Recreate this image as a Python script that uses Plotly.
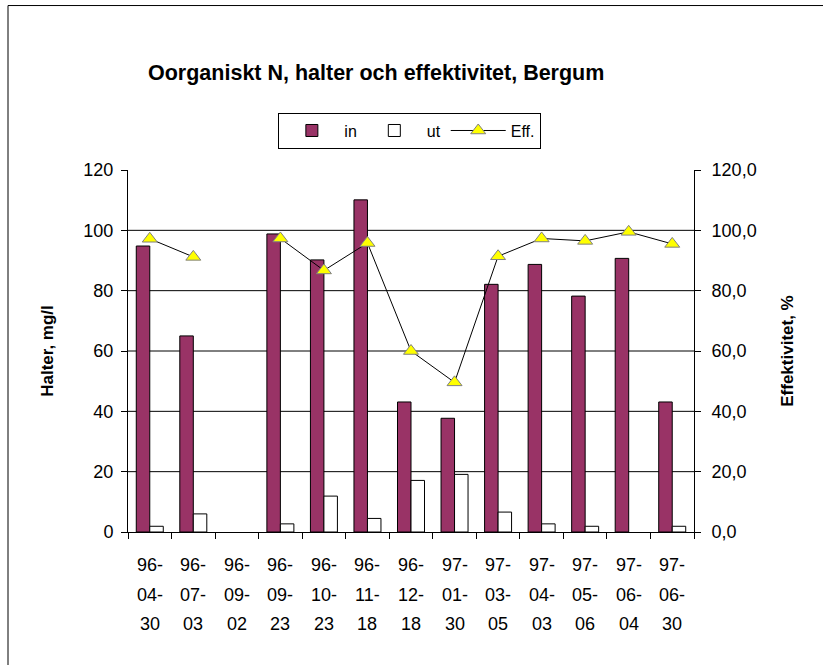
import plotly.graph_objects as go

dates = ["96-04-30", "96-07-03", "96-09-02", "96-09-23", "96-10-23", "96-11-18", "96-12-18",
         "97-01-30", "97-03-05", "97-04-03", "97-05-06", "97-06-04", "97-06-30"]
halt_in = [94.8, 65.0, None, 98.8, 90.2, 110.1, 43.1, 37.7, 82.1, 88.7, 78.2, 90.7, 43.1]
halt_ut = [1.9, 6.0, None, 2.7, 11.9, 4.5, 17.1, 19.1, 6.6, 2.7, 1.9, None, 1.9]
eff = [97.2, 91.2, None, 97.3, 86.7, 95.8, 60.0, 49.6, 91.4, 97.3, 96.5, 99.5, 95.5]
left_ticks = [0, 20, 40, 60, 80, 100, 120]
right_ticks = [0, 20, 40, 60, 80, 100, 120]

FONT = "Arial, Liberation Sans, sans-serif"

fig = go.Figure()
fig.add_trace(go.Bar(x=dates, y=halt_in, name="in",
                     marker=dict(color="#993366", line=dict(color="black", width=1))))
fig.add_trace(go.Bar(x=dates, y=halt_ut, name="ut",
                     marker=dict(color="white", line=dict(color="black", width=1))))
fig.add_trace(go.Scatter(x=dates, y=eff, name="Eff.", yaxis="y2", mode="lines+markers",
                         connectgaps=False,
                         line=dict(color="black", width=1),
                         marker=dict(symbol="triangle-up", size=13, color="#FFFF00",
                                     line=dict(color="#808080", width=1))))

shapes = []
for t in left_ticks[1:-1]:
    shapes.append(dict(type="line", xref="paper", yref="y", x0=0, x1=1, y0=t, y1=t,
                       line=dict(color="black", width=1), layer="below"))
# chart-area border
shapes.append(dict(type="rect", xref="paper", yref="paper", x0=-0.212, x1=1.4,
                   y0=-0.6, y1=1.4543, line=dict(color="black", width=1),
                   fillcolor="rgba(0,0,0,0)"))

annotations = []
for d in dates:
    parts = d.split("-")
    rows = [parts[0] + "-", parts[1] + "-", parts[2]]
    for i, r in enumerate(rows):
        annotations.append(dict(x=d, xref="x", y=0, yref="paper", text=r, showarrow=False,
                                xanchor="center", yanchor="middle", yshift=-33 - 29.5 * i,
                                font=dict(family=FONT, size=18, color="black")))

fig.update_layout(
    width=823, height=665,
    margin=dict(l=128, r=129, t=170, b=133, pad=0),
    paper_bgcolor="white", plot_bgcolor="white",
    separators=", ",
    font=dict(family=FONT, size=18, color="black"),
    title=dict(text="<b>Oorganiskt N, halter och effektivitet, Bergum</b>",
               x=148 / 823, xref="container", xanchor="left", y=1 - 72 / 665, yanchor="middle",
               font=dict(family=FONT, size=21.5, color="black")),
    barmode="group", bargap=0.38, bargroupgap=0,
    showlegend=True,
    legend=dict(orientation="h", x=0.498, xanchor="center", y=1.1586, yanchor="top",
                bordercolor="black", borderwidth=1, bgcolor="white", itemwidth=55,
                font=dict(family=FONT, size=16, color="black"), traceorder="normal"),
    xaxis=dict(type="category", range=[-0.5, 12.5], showticklabels=False, ticks="outside",
               tickson="boundaries", ticklen=6, tickcolor="black", showline=True,
               linecolor="black", linewidth=1, showgrid=False, zeroline=False),
    yaxis=dict(range=[0, 120], tickvals=left_ticks, ticks="outside", ticklen=6,
               tickcolor="black", showline=True, linecolor="black", linewidth=1,
               showgrid=False, zeroline=False, ticklabelstandoff=4,
               tickfont=dict(family=FONT, size=18),
               title=dict(text="<b>Halter, mg/l</b>", standoff=25,
                          font=dict(family=FONT, size=17))),
    yaxis2=dict(range=[0, 120], tickvals=right_ticks, tickformat=".1f", overlaying="y",
                side="right", ticks="outside", ticklen=6, tickcolor="black", showline=True,
                linecolor="black", linewidth=1, showgrid=False, zeroline=False,
                ticklabelstandoff=7,
                tickfont=dict(family=FONT, size=18),
                title=dict(text="<b>Effektivitet, %</b>", standoff=25,
                           font=dict(family=FONT, size=17))),
    shapes=shapes,
    annotations=annotations,
)

fig.write_html("out.html", config={"displayModeBar": False},
               post_script="document.body.style.margin='0px';")
